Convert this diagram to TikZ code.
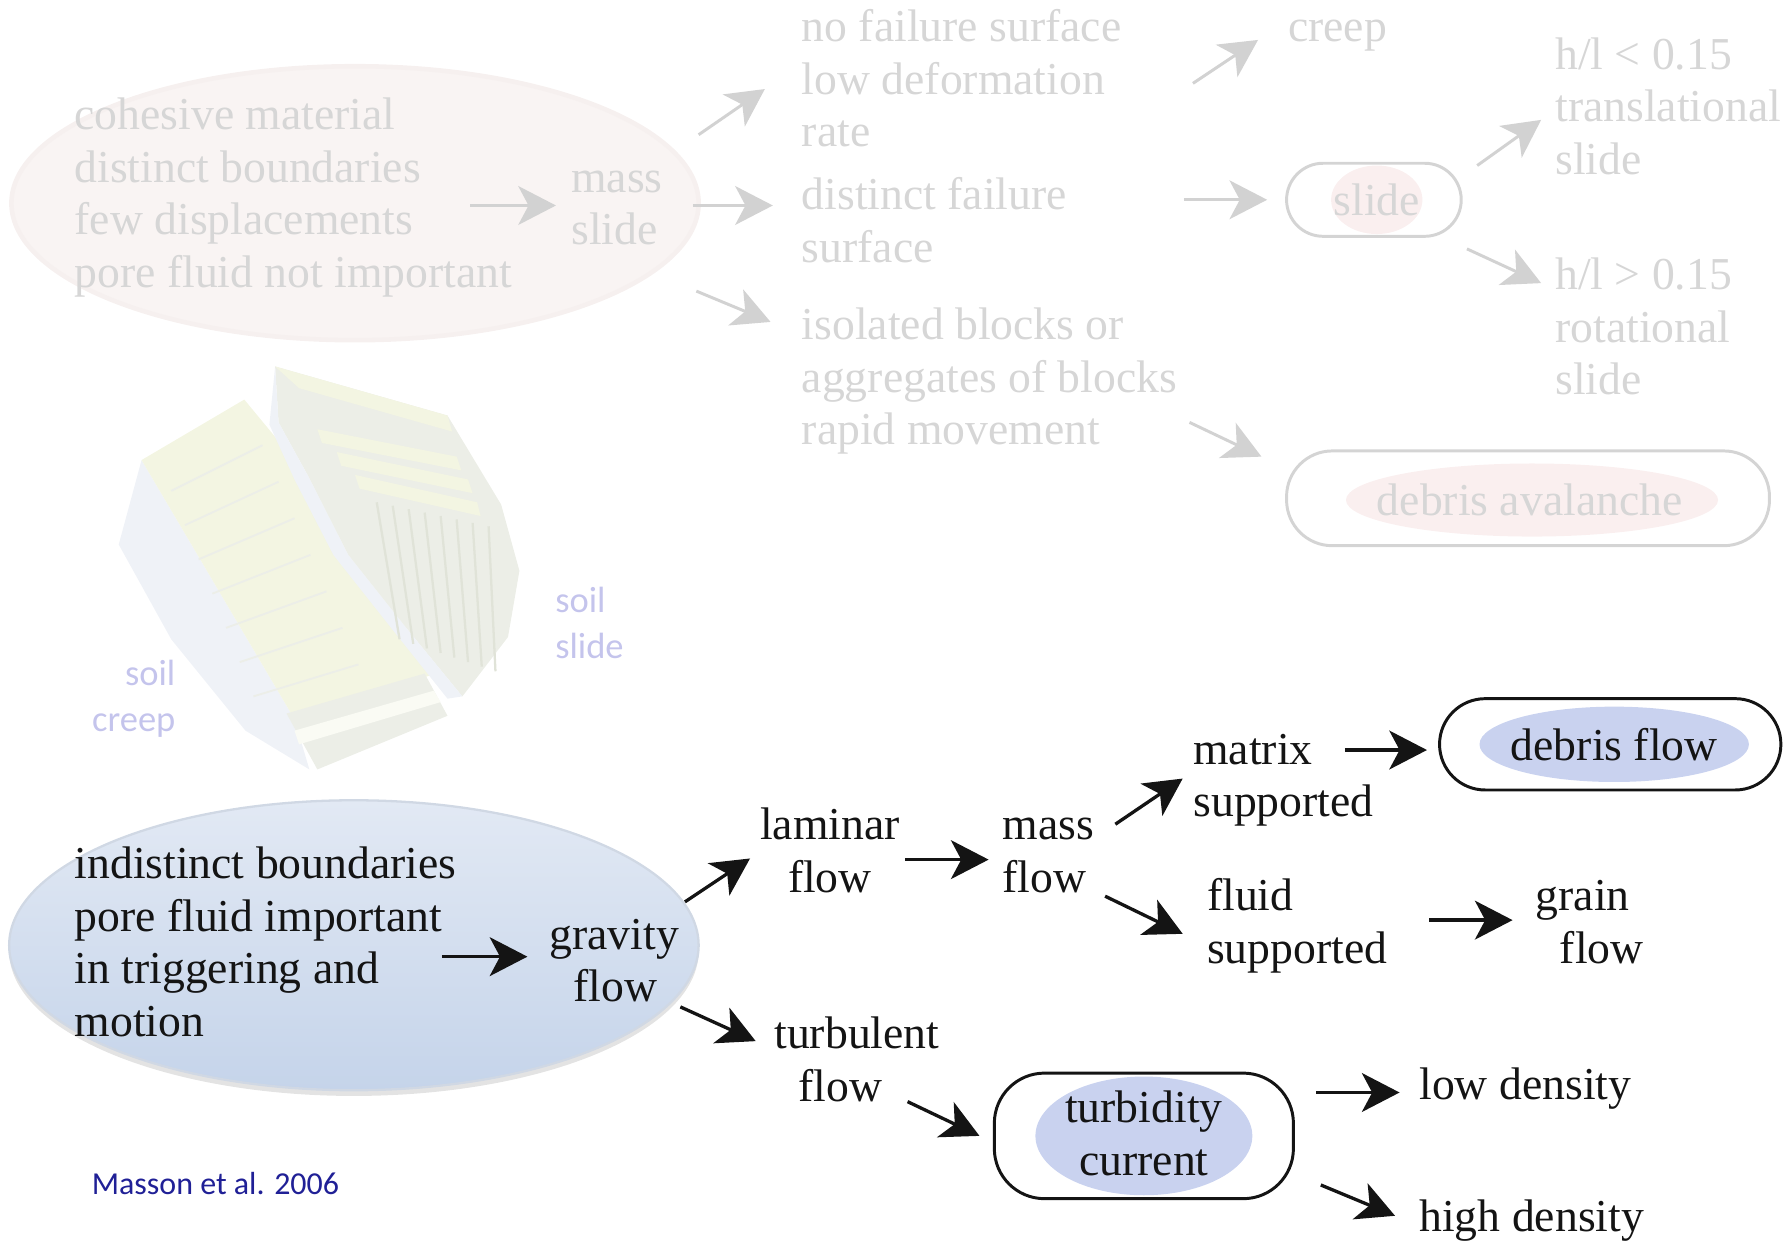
\documentclass[tikz,border=0pt]{standalone}
\usepackage{fontspec}
\setmainfont{Liberation Serif}
\newfontfamily\calib{Carlito}
\usetikzlibrary{shapes.geometric,arrows.meta,shadows}

\definecolor{fadetxt}{RGB}{214,214,214}
\definecolor{fadearr}{RGB}{210,210,210}
\definecolor{fadebox}{RGB}{212,212,212}
\definecolor{pinkfill}{RGB}{249,244,243}
\definecolor{pinkrim}{RGB}{246,240,239}
\definecolor{pinkin}{RGB}{250,239,239}
\definecolor{blueTop}{RGB}{226,233,244}
\definecolor{blueBot}{RGB}{197,212,234}
\definecolor{bluerim}{RGB}{208,216,228}
\definecolor{lav}{RGB}{201,210,239}
\definecolor{soilc}{RGB}{196,196,236}
\definecolor{massonc}{RGB}{32,32,150}
\definecolor{ink}{RGB}{20,20,20}
\definecolor{grassc}{RGB}{243,245,226}
\definecolor{sidec}{RGB}{239,242,247}
\definecolor{frontc}{RGB}{236,238,231}
\definecolor{streakc}{RGB}{224,227,216}

\begin{document}
\begin{tikzpicture}[x=0.5pt,y=-0.5pt,
  txt/.style={inner sep=0pt, align=left, anchor=north west, font=\fontsize{20}{23}\selectfont},
  ctxt/.style={inner sep=0pt, align=center, font=\fontsize{20}{23}\selectfont},
  ftxt/.style={txt, text=fadetxt},
  btxt/.style={txt, text=ink},
  soiltxt/.style={inner sep=0pt, align=right, anchor=north east, font=\calib\fontsize{16}{20}\selectfont, text=soilc},
  arrhead/.style={-{Stealth[length=16.5pt,width=17pt,inset=4.5pt]}},
  farr/.style={arrhead, line width=1.3pt, draw=fadearr, fill=fadearr},
  barr/.style={arrhead, line width=1.45pt, draw=ink, fill=ink},
  pill/.style={rectangle, inner sep=0pt},
  fadepill/.style={pill, draw=fadebox, line width=1.3pt},
  blackpill/.style={pill, draw=ink, line width=1.3pt},
  blob/.style={ellipse, inner sep=0pt}
]
\useasboundingbox (0,0) rectangle (1568,1088);

% ---------------- illustration (faded block diagram) ----------------
\fill[sidec] (124,403) -- (104,477) -- (150,560) -- (215,640) -- (271,674) -- (258,630) -- cycle;
\fill[grassc] (124,403) -- (214,350) -- (271,419) -- (305,486) -- (355,549) -- (382,590) -- (258,630) -- cycle;
\fill[frontc] (251,625) -- (372,590) -- (392,627) -- (278,674) -- cycle;
\fill[white!60!grassc] (258,640) -- (380,605) -- (386,615) -- (262,652) -- cycle;
\fill[frontc] (241,321) -- (392,364) -- (439,442) -- (455,500) -- (445,558) -- (412,601) -- (405,610)
   -- (355,549) -- (305,486) -- (271,419) -- (244,370) -- cycle;
\fill[sidec] (241,321) -- (244,370) -- (271,419) -- (305,486) -- (355,549) -- (405,610) -- (392,612) -- (345,553) -- (292,486) -- (258,420) -- (236,372) -- cycle;
\fill[grassc] (241,321) -- (392,364) -- (396,378) -- (262,340) -- cycle;
\fill[grassc] (278,376) -- (400,400) -- (404,412) -- (282,388) -- cycle;
\fill[grassc] (295,396) -- (410,420) -- (414,432) -- (299,408) -- cycle;
\fill[grassc] (311,416) -- (418,440) -- (421,452) -- (315,428) -- cycle;
\foreach \i in {0,...,7}{
  \draw[streakc, line width=1pt] (330+\i*14,440+\i*3) -- (350+\i*12,560+\i*4);
}
\foreach \i in {0,...,6}{
  \draw[white!40!streakc, line width=0.8pt] (150+\i*12,430+\i*30) -- (230+\i*14,390+\i*32);
}

% ---------------- top (faded) part ----------------
\node[blob, minimum width=301pt, minimum height=120pt, fill=pinkfill, draw=pinkrim, line width=2pt] (topell) at (311,178) {};

\node[ftxt] (coh) at (65,81) {\strut cohesive material\\distinct boundaries\\few displacements\\pore fluid not important};
\node[ftxt] (massslide) at (500,136) {\strut mass\\slide};
\node[ftxt] (nofail) at (702,4) {\strut no failure surface\\low deformation\\rate};
\node[ftxt] (distinct) at (702,151) {\strut distinct failure\\surface};
\node[ftxt] (isolated) at (702,265) {\strut isolated blocks or\\aggregates of blocks\\rapid movement};
\node[ftxt, anchor=base west] (creep) at (1128,36) {creep};
\node[ftxt] (hlA) at (1362,28) {\strut h/l < 0.15\\translational\\slide};
\node[ftxt] (hlB) at (1362,221) {\strut h/l > 0.15\\rotational\\slide};

\node[blob, minimum width=40pt, minimum height=30pt, fill=pinkin] (slidein) at (1206,175) {};
\node[fadepill, minimum width=76.5pt, minimum height=32pt, rounded corners=16pt] (slidebox) at (1203.5,175) {};
\node[ctxt, text=fadetxt] (slidetxt) at (1206,175) {slide};

\node[blob, minimum width=163pt, minimum height=32pt, fill=pinkin] (avin) at (1342,438) {};
\node[fadepill, minimum width=211.5pt, minimum height=41.5pt, rounded corners=20pt] (avbox) at (1338.5,436.5) {};
\node[ctxt, text=fadetxt] (avtxt) at (1340,438) {debris avalanche};

\coordinate (f1s) at (412,180);  \coordinate (f1e) at (487,180);
\coordinate (f2s) at (612,118);  \coordinate (f2e) at (670,78);
\coordinate (f3s) at (607,180);  \coordinate (f3e) at (677,180);
\coordinate (f4s) at (610,255);  \coordinate (f4e) at (675,282);
\coordinate (f5s) at (1045,73);  \coordinate (f5e) at (1102,35);
\coordinate (f6s) at (1037,175); \coordinate (f6e) at (1110,175);
\coordinate (f7s) at (1294,145); \coordinate (f7e) at (1350,105);
\coordinate (f8s) at (1285,218); \coordinate (f8e) at (1350,248);
\coordinate (f9s) at (1042,370); \coordinate (f9e) at (1105,400);
\foreach \k in {1,...,9}{ \draw[farr] (f\k s) -- (f\k e); }

% ---------------- soil labels ----------------
\node[soiltxt, align=left, anchor=north west] (soilslide) at (486,508) {\strut soil\\slide};
\node[soiltxt] (soilcreep) at (154,572) {\strut soil\\creep};

% ---------------- bottom part ----------------
\node[blob, minimum width=302pt, minimum height=127pt, top color=blueTop, bottom color=blueBot,
      draw=bluerim, line width=1pt,
      drop shadow={opacity=0.22, shadow xshift=0pt, shadow yshift=-2.5pt}] (botell) at (310,828) {};

\node[btxt] (indist) at (65,737) {\strut indistinct boundaries\\pore fluid important\\in triggering and\\motion};
\node[btxt] (gravity) at (481,799) {\strut gravity\\\hspace*{10.5pt}flow};
\node[ctxt, text=ink, anchor=north] (laminar) at (727,703) {\strut laminar\\flow};
\node[btxt] (massflow) at (878,703) {\strut mass\\flow};
\node[btxt] (matrix) at (1045,637) {\strut matrix\\supported};
\node[btxt] (fluid) at (1057,765) {\strut fluid\\supported};
\node[btxt] (grain) at (1345,765) {\strut grain\\\hspace*{10.5pt}flow};
\node[btxt] (turbulent) at (678,886) {\strut turbulent\\\hspace*{10.5pt}flow};
\node[btxt, anchor=base west] (lowd) at (1243,963) {low density};
\node[btxt, anchor=base west] (highd) at (1243,1079) {high density};

\node[blob, minimum width=118pt, minimum height=33pt, fill=lav] (dfin) at (1414,652) {};
\node[blackpill, minimum width=149.5pt, minimum height=40pt, rounded corners=20pt] (dfbox) at (1410.5,652) {};
\node[ctxt, text=ink] (dftxt) at (1414,652) {debris flow};

\node[blob, minimum width=95pt, minimum height=52pt, fill=lav] (tcin) at (1002,995) {};
\node[blackpill, minimum width=131pt, minimum height=55pt, rounded corners=22pt] (tcbox) at (1002,995) {};
\node[ctxt, text=ink, anchor=north] (tctxt) at (1002,951) {\strut turbidity\\current};

\coordinate (b1s) at (387,838);   \coordinate (b1e) at (462,838);
\coordinate (b2s) at (600,790);   \coordinate (b2e) at (657,752);
\coordinate (b3s) at (596,882);   \coordinate (b3e) at (662,912);
\coordinate (b4s) at (793,753);   \coordinate (b4e) at (866,753);
\coordinate (b5s) at (977,722);   \coordinate (b5e) at (1036,682);
\coordinate (b6s) at (968,785);   \coordinate (b6e) at (1036,818);
\coordinate (b7s) at (1178,657);  \coordinate (b7e) at (1250,657);
\coordinate (b8s) at (1252,806);  \coordinate (b8e) at (1325,806);
\coordinate (b9s) at (795,965);   \coordinate (b9e) at (858,995);
\coordinate (b10s) at (1153,957); \coordinate (b10e) at (1226,957);
\coordinate (b11s) at (1157,1038);\coordinate (b11e) at (1222,1065);
\foreach \k in {1,...,11}{ \draw[barr] (b\k s) -- (b\k e); }

\node[inner sep=0pt, anchor=base west, font=\calib\fontsize{14}{17}\selectfont, text=massonc] (masson) at (80,1046) {Masson et al. 2006};
\end{tikzpicture}
\end{document}
